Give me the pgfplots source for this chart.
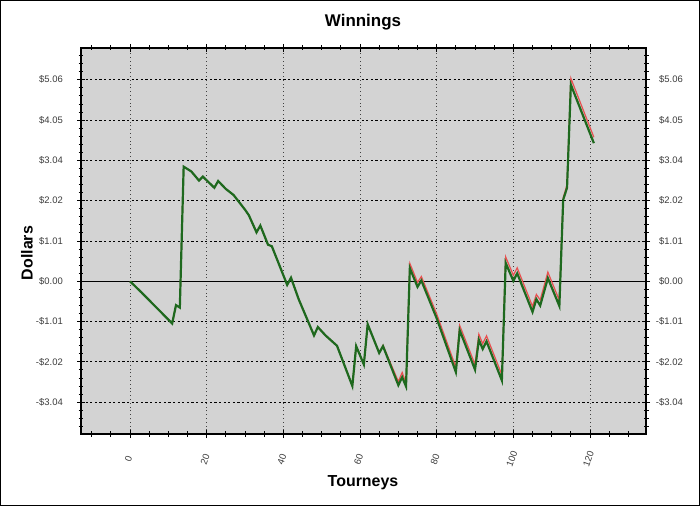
\documentclass[border=0pt]{standalone}
\usepackage{pgfplots}
\pgfplotsset{compat=1.18}
\usepackage{pgfplotstable}
\usepackage{fontspec}
\setmainfont{Liberation Sans}
\definecolor{plotbg}{RGB}{211,211,211}
\definecolor{lgreen}{RGB}{30,105,30}
\definecolor{lred}{RGB}{232,80,80}
\definecolor{ticklab}{RGB}{60,60,60}

\pgfplotstableread{
t v
0 0
3 -0.28
11 -1.06
12 -0.60
13 -0.66
14 2.88
16 2.76
18 2.53
19 2.63
22 2.35
23 2.52
25 2.32
27 2.17
30 1.80
31 1.66
33 1.23
34 1.40
36 0.92
37 0.88
41 -0.09
42 0.09
44 -0.45
48 -1.36
49 -1.15
51 -1.36
54 -1.62
58 -2.63
59 -1.63
61 -2.09
62 -1.08
65 -1.80
66 -1.63
70 -2.61
71 -2.41
72 -2.64
73 0.33
75 -0.14
76 0.02
80 -0.93
85 -2.28
86 -1.23
90 -2.22
91 -1.47
92 -1.70
93 -1.51
97 -2.49
98 0.46
100 0.01
101 0.20
105 -0.77
106 -0.45
107 -0.61
109 0.08
112 -0.62
113 2.05
114 2.35
115 4.94
121 3.47
}\greendata

\pgfplotstableread{
t v
0 0
3 -0.28
11 -1.06
12 -0.60
13 -0.66
14 2.88
16 2.76
18 2.53
19 2.63
22 2.35
23 2.52
25 2.32
27 2.17
30 1.80
31 1.66
33 1.23
34 1.40
36 0.92
37 0.88
41 -0.09
42 0.09
44 -0.45
48 -1.36
49 -1.15
51 -1.36
54 -1.62
58 -2.63
59 -1.63
61 -2.09
62 -1.08
65 -1.80
66 -1.61
70 -2.52
71 -2.29
72 -2.56
73 0.45
75 -0.03
76 0.12
80 -0.82
85 -2.16
86 -1.11
90 -2.09
91 -1.33
92 -1.57
93 -1.37
97 -2.35
98 0.61
100 0.15
101 0.34
105 -0.63
106 -0.33
107 -0.47
109 0.23
112 -0.48
113 2.10
114 2.42
115 5.10
121 3.62
}\reddata

\begin{document}
\begin{tikzpicture}
\path[use as bounding box, fill=white] (0bp,0bp) rectangle (700bp,506bp);
\draw[black, line width=1bp] (0.5bp,0.5bp) rectangle (699.5bp,505.5bp);
\begin{axis}[
  scale only axis, width=565bp, height=386bp,
  at={(81bp,72bp)}, anchor=south west,
  xmin=-12.78, xmax=134.6, ymin=-3.837, ymax=5.862,
  axis background/.style={fill=plotbg},
  axis line style={black, line width=1.1bp},
  xtick={0,20,...,120}, xticklabels={0,20,40,60,80,100,120},
  minor xtick={-10,-5,...,130},
  ytick={-3.0375,-2.025,-1.0125,0,1.0125,2.025,3.0375,4.05,5.0625},
  yticklabels={-\$3.04,-\$2.02,-\$1.01,\$0.00,\$1.01,\$2.02,\$3.04,\$4.05,\$5.06},
  minor ytick={-3.645,-3.4425,...,5.88},
  tick align=center, major tick length=8bp, minor tick length=5bp,
  tick style={black, line width=0.9bp},
  xtick pos=both, ytick pos=both,
  xticklabel pos=lower, yticklabel pos=left,
  grid=major,
  major x grid style={black!75, line width=0.7bp, dash pattern=on 0.8bp off 3bp},
  major y grid style={black, line width=0.8bp, dash pattern=on 2.2bp off 2.4bp},
  ticklabel style={font=\fontsize{9.5}{11}\selectfont, text=ticklab},
  xticklabel style={anchor=center, yshift=-21bp, xshift=-1.5bp, rotate=70},
  yticklabel style={anchor=east, inner sep=0pt, xshift=-14bp},
]
\draw[black, line width=1bp] (axis cs:-12.78,0) -- (axis cs:134.6,0);
\addplot[lred, line width=1.2bp] table[x=t, y=v] {\reddata};
\addplot[lgreen, line width=2.2bp] table[x=t, y=v] {\greendata};
\end{axis}
\begin{axis}[
  scale only axis, width=565bp, height=386bp,
  at={(81bp,72bp)}, anchor=south west,
  xmin=-12.78, xmax=134.6, ymin=-3.837, ymax=5.862,
  axis line style={draw=none},
  xtick=\empty,
  ytick={-3.0375,-2.025,-1.0125,0,1.0125,2.025,3.0375,4.05,5.0625},
  yticklabels={-\$3.04,-\$2.02,-\$1.01,\$0.00,\$1.01,\$2.02,\$3.04,\$4.05,\$5.06},
  ytick pos=right, yticklabel pos=right,
  major tick length=0pt, tick style={draw=none},
  ticklabel style={font=\fontsize{9.5}{11}\selectfont, text=ticklab},
  yticklabel style={anchor=east, inner sep=0pt, xshift=37bp},
]
\end{axis}
\node[font=\bfseries\fontsize{17}{20}\selectfont] at (363bp,484bp) {Winnings};
\node[font=\bfseries\fontsize{16}{19}\selectfont] at (363bp,23bp) {Tourneys};
\node[font=\bfseries\fontsize{16}{19}\selectfont, rotate=90] at (27bp,253bp) {Dollars};
\end{tikzpicture}
\end{document}
